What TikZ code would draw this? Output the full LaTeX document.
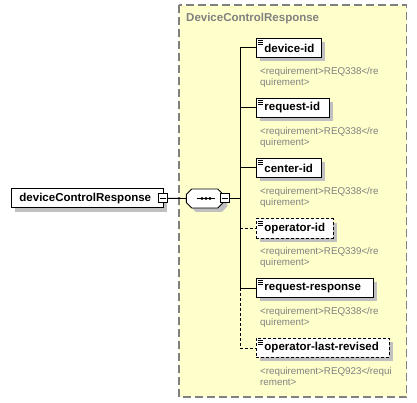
\documentclass[tikz,border=0pt]{standalone}
\usepackage{fontspec}
\setmainfont{Liberation Sans}
\usetikzlibrary{shadows}
\definecolor{panel}{RGB}{255,255,204}
\definecolor{anntext}{RGB}{128,128,128}
\definecolor{shd}{RGB}{192,192,192}
\begin{document}
\begin{tikzpicture}[x=1pt,y=-1pt,
  shadowed/.style={drop shadow={shadow xshift=4pt,shadow yshift=-4pt,fill=shd,opacity=1}},
  elem/.style={draw=black,fill=white,line width=0.9pt,inner xsep=8pt,inner ysep=0pt,
    minimum height=19pt,anchor=north west,align=left,
    font=\bfseries\fontsize{11.5}{13}\selectfont,shadowed},
  optelem/.style={elem,dash pattern=on 3pt off 2pt},
  ann/.style={anchor=north west,inner sep=0pt,align=left,text=anntext,
    font=\fontsize{9.8}{11}\selectfont},
  minusbox/.style={draw=black,fill=white,line width=0.8pt,minimum size=9pt,inner sep=0pt},
  conn/.style={line width=0.9pt},
  optconn/.style={conn,dash pattern=on 3pt off 2pt}]
\useasboundingbox (0,0) rectangle (417,403);
\fill[white] (0,0) rectangle (417,403);
% panel
\draw[draw=anntext,fill=panel,line width=1.5pt,dash pattern=on 8pt off 4pt] (179,5) rectangle (406.5,397);
\node[anchor=base west,inner sep=0pt,text=anntext,font=\bfseries\fontsize{11.5}{13}\selectfont] (title) at (186,22) {DeviceControlResponse};
% root
\node[elem,text width=136pt] (root) at (11,188.5) {\mbox{deviceControlResponse}};
\node[minusbox] (m0) at (163,198.3) {};
\draw[line width=0.8pt] ([xshift=2pt]m0.west) -- ([xshift=-2pt]m0.east);
% compositor (sequence)
\node[minimum width=37pt,minimum height=19pt,inner sep=0pt] (seq) at (205,198.5) {};
\fill[shd] ([shift={(4pt,-4pt)}]seq.west) -- ++(0,-4) -- ++(5.5,-5.5) -- ++(26,0) -- ++(5.5,5.5)
  -- ++(0,8) -- ++(-5.5,5.5) -- ++(-26,0) -- ++(-5.5,-5.5) -- cycle;
\draw[line width=0.9pt,fill=white] (seq.west) -- ++(0,-4) -- ++(5.5,-5.5) -- ++(26,0) -- ++(5.5,5.5)
  -- ++(0,8) -- ++(-5.5,5.5) -- ++(-26,0) -- ++(-5.5,-5.5) -- cycle;
\draw[line width=0.9pt] ([xshift=-8.5pt]seq.center) -- ([xshift=10pt]seq.center);
\foreach \dx in {-3,1,5} \fill ([xshift=\dx pt]seq.center) circle (1.7pt);
\node[minusbox] (m1) at (225.3,198.3) {};
\draw[line width=0.8pt] ([xshift=2pt]m1.west) -- ([xshift=-2pt]m1.east);
\coordinate (j) at (240,198.3);
\draw[conn] (m0.east) -- (seq.west);
\draw[conn] (m1.east) -- (j);
% children
\node[elem,text width=49pt] (dev) at (256,38) {\mbox{device-id}};
\node[elem,text width=57pt] (req) at (256,98) {\mbox{request-id}};
\node[elem,text width=49pt] (cen) at (256,158) {\mbox{center-id}};
\node[optelem,text width=61pt] (opi) at (256,218.5) {\mbox{operator-id}};
\node[elem,text width=101pt] (rr) at (256,278) {\mbox{request-response}};
\node[optelem,text width=117pt] (olr) at (256,338) {\mbox{operator-last-revised}};
\foreach \n in {dev,req,cen,opi,rr,olr}{
  \foreach \k in {0,2,4}{
    \draw[line width=0.8pt] ([xshift=2pt,yshift=-2.7-\k]\n.north west) -- ([xshift=7pt,yshift=-2.7-\k]\n.north west);
  }
}
% spine and connectors
\draw[conn] (dev.west -| j) -- (rr.west -| j);
\draw[optconn] (rr.west -| j) -- (olr.west -| j);
\draw[conn] (dev.west -| j) -- (dev.west);
\draw[conn] (req.west -| j) -- (req.west);
\draw[conn] (cen.west -| j) -- (cen.west);
\draw[optconn] (opi.west -| j) -- (opi.west);
\draw[conn] (rr.west -| j) -- (rr.west);
\draw[optconn] (olr.west -| j) -- (olr.west);
% annotations
\node[ann] (a1) at (260,67) {<requirement>REQ338</re\\quirement>};
\node[ann] (a2) at (260,127) {<requirement>REQ338</re\\quirement>};
\node[ann] (a3) at (260,187) {<requirement>REQ338</re\\quirement>};
\node[ann] (a4) at (260,247) {<requirement>REQ339</re\\quirement>};
\node[ann] (a5) at (260,307) {<requirement>REQ338</re\\quirement>};
\node[ann] (a6) at (260,367) {<requirement>REQ923</requi\\rement>};
\end{tikzpicture}
\end{document}
